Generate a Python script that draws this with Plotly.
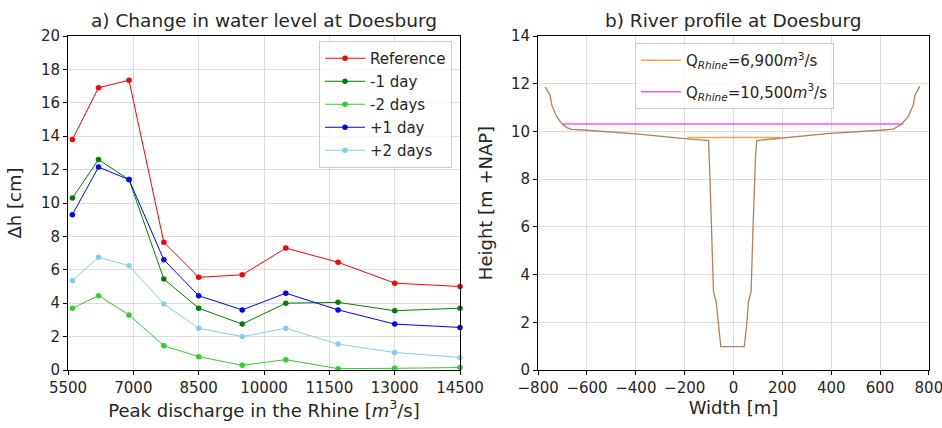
import plotly.graph_objects as go

# a) change in water level vs peak discharge
discharge = [5600, 6200, 6900, 7700, 8500, 9500, 10500, 11700, 13000, 14500]
dh_reference = [13.8, 16.9, 17.35, 7.65, 5.55, 5.7, 7.3, 6.45, 5.2, 5.0]
dh_minus1 = [10.3, 12.6, 11.4, 5.45, 3.7, 2.75, 4.0, 4.05, 3.55, 3.7]
dh_minus2 = [3.7, 4.45, 3.3, 1.45, 0.8, 0.28, 0.62, 0.08, 0.1, 0.15]
dh_plus1 = [9.3, 12.15, 11.4, 6.6, 4.45, 3.6, 4.6, 3.6, 2.75, 2.55]
dh_plus2 = [5.35, 6.75, 6.25, 3.95, 2.5, 2.0, 2.5, 1.55, 1.05, 0.75]
x_ticks = [5500, 7000, 8500, 10000, 11500, 13000, 14500]
width_ticks = [-800, -600, -400, -200, 0, 200, 400, 600, 800]

# b) river profile
profile_width = [-771, -758, -751, -744, -735, -724, -710, -697, -680, -663, -600, -400,
                 -200, -102, -96, -90, -82, -71, -62, -52, 44, 54, 61, 72, 80, 86, 90,
                 95, 200, 395, 600, 654, 688, 715, 736, 743, 763]
profile_height = [11.87, 11.65, 11.52, 11.1, 10.85, 10.62, 10.42, 10.27, 10.15, 10.09,
                  10.05, 9.9, 9.7, 9.62, 7.9, 6.0, 3.28, 2.86, 1.9, 0.98, 0.98, 1.9,
                  2.86, 3.28, 6.0, 8.0, 8.9, 9.62, 9.72, 9.92, 10.05, 10.1, 10.3,
                  10.62, 11.1, 11.52, 11.9]
level_6900_x = [-190, 190]
level_6900_y = [9.75, 9.75]
level_10500_x = [-703, 695]
level_10500_y = [10.31, 10.31]

FONT = "DejaVu Sans"
TXT = "#262626"
fig = go.Figure()

series = [
    ("Reference", dh_reference, "#ff0000"),
    ("-1 day", dh_minus1, "#008000"),
    ("-2 days", dh_minus2, "#32cd32"),
    ("+1 day", dh_plus1, "#0000ff"),
    ("+2 days", dh_plus2, "#87ceeb"),
]
for name, vals, col in series:
    fig.add_trace(go.Scatter(
        x=discharge, y=vals, name=name, mode="lines+markers", legendgroup=name,
        line=dict(color=col, width=1), marker=dict(color=col, size=5.5),
        xaxis="x", yaxis="y", legend="legend", cliponaxis=False,
    ))

fig.add_trace(go.Scatter(
    x=level_6900_x, y=level_6900_y, mode="lines", legendgroup="q1",
    name="Q<sub><i>Rhine</i></sub>=6,900<i>m</i><sup>3</sup>/s",
    line=dict(color="#ffa53a", width=1.5), xaxis="x2", yaxis="y2", legend="legend2",
))
fig.add_trace(go.Scatter(
    x=level_10500_x, y=level_10500_y, mode="lines", legendgroup="q2",
    name="Q<sub><i>Rhine</i></sub>=10,500<i>m</i><sup>3</sup>/s",
    line=dict(color="#ff55ff", width=1.5), xaxis="x2", yaxis="y2", legend="legend2",
))
fig.add_trace(go.Scatter(
    x=profile_width, y=profile_height, mode="lines", showlegend=False,
    line=dict(color="#b5805a", width=1.3), xaxis="x2", yaxis="y2",
))

axis_style = dict(
    showline=True, mirror=True, linecolor="black", linewidth=1,
    ticks="outside", ticklen=4, tickcolor="black",
    showgrid=True, gridcolor="#dcdcdc", gridwidth=1, zeroline=False,
    tickfont=dict(family=FONT, size=15, color=TXT),
    automargin=False, ticklabeloverflow="allow",
)
title_font = dict(family=FONT, size=18, color=TXT)

fig.update_layout(
    width=942, height=428,
    margin=dict(l=68, r=13, t=36, b=58),
    plot_bgcolor="white", paper_bgcolor="white",
    font=dict(family=FONT, size=15, color=TXT),
    xaxis=dict(axis_style, domain=[0, 0.4553], range=[5500, 14500],
               tickvals=x_ticks, tickformat="d",
               title=dict(text="Peak discharge in the Rhine [<i>m</i><sup>3</sup>/s]",
                          font=title_font, standoff=4)),
    yaxis=dict(axis_style, range=[0, 20], dtick=2,
               title=dict(text="Δh [cm]", font=title_font, standoff=14)),
    xaxis2=dict(axis_style, domain=[0.5459, 1], range=[-800.5, 800.5],
                tickvals=width_ticks, anchor="y2",
                title=dict(text="Width [m]", font=title_font, standoff=4)),
    yaxis2=dict(axis_style, range=[0, 14], dtick=2, anchor="x2",
                title=dict(text="Height [m +NAP]", font=title_font, standoff=13)),
    legend=dict(x=0.446, y=0.985, xanchor="right", yanchor="top", tracegroupgap=0.5,
                bgcolor="rgba(255,255,255,0.8)", bordercolor="#cccccc", borderwidth=1,
                font=dict(family=FONT, size=15, color=TXT), itemwidth=40),
    legend2=dict(x=0.774, y=0.979, xanchor="center", yanchor="top", tracegroupgap=9,
                 bgcolor="rgba(255,255,255,0.8)", bordercolor="#cccccc", borderwidth=1,
                 font=dict(family=FONT, size=15, color=TXT), itemwidth=40),
    annotations=[
        dict(text="a) Change in water level at Doesburg", x=0.2277, y=1,
             xref="paper", yref="paper", xanchor="center", yanchor="bottom",
             yshift=3, showarrow=False, font=dict(family=FONT, size=18.5, color=TXT)),
        dict(text="b) River profile at Doesburg", x=0.773, y=1,
             xref="paper", yref="paper", xanchor="center", yanchor="bottom",
             yshift=3, showarrow=False, font=dict(family=FONT, size=18.5, color=TXT)),
    ],
)

# drop the page's default body margin so the figure fills the window exactly
fig.write_html("out.html",
               config={"displayModeBar": False},
               post_script="document.body.style.margin='0';"
                           "document.body.style.overflow='hidden';")
